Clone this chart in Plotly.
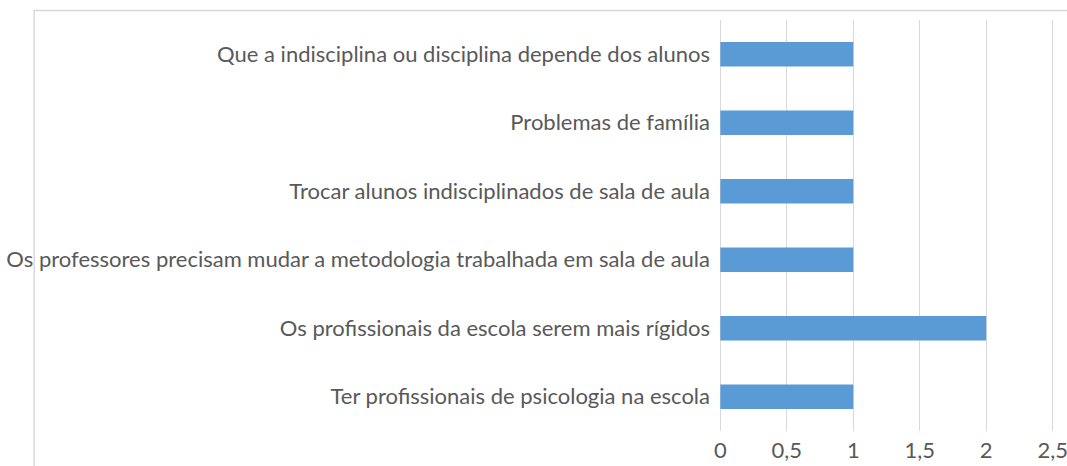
import plotly.graph_objects as go

categories = [
    "Ter profissionais de psicologia na escola",
    "Os profissionais da escola serem mais rígidos",
    "Os professores precisam mudar a metodologia trabalhada em sala de aula",
    "Trocar alunos indisciplinados de sala de aula",
    "Problemas de família",
    "Que a indisciplina ou disciplina depende dos alunos",
]
values = [1, 2, 1, 1, 1, 1]
tick_vals = [0, 0.5, 1, 1.5, 2, 2.5]
tick_text = ["0", "0,5", "1", "1,5", "2", "2,5"]

W, H = 1067, 466
px_per_unit = 333 / 2.5
pad = 0.01  # small range padding so edge gridlines are drawn
ml = 720 - pad * px_per_unit
mr = W - 1053 - pad * px_per_unit
mt, mb = 20, 35
pw, ph = W - ml - mr, H - mt - mb

fig = go.Figure(go.Bar(
    x=values, y=categories, orientation="h",
    marker=dict(color="#5B9BD5", line=dict(width=0)),
))

fig.update_layout(
    width=W, height=H,
    margin=dict(l=ml, r=mr, t=mt, b=mb, autoexpand=False),
    paper_bgcolor="white", plot_bgcolor="white",
    font=dict(family="Lato", size=22, color="#595959"),
    bargap=0.64,
    showlegend=False,
    xaxis=dict(range=[-pad, 2.5 + pad], tickvals=tick_vals, ticktext=tick_text,
               showgrid=True, gridcolor="#D9D9D9", gridwidth=1.3,
               zeroline=False, showline=False, ticks="", ticklabelstandoff=4,
               automargin=False, ticklabeloverflow="allow"),
    yaxis=dict(showgrid=False, zeroline=False, showline=False, ticks="",
               ticklabelstandoff=8, automargin=False),
    shapes=[dict(type="rect", xref="paper", yref="paper",
                 x0=(32.5 - ml) / pw, x1=1.2,
                 y0=-0.3, y1=(H - mb - 10.5) / ph,
                 line=dict(color="#D9D9D9", width=1.5), layer="below")],
)

fig.write_html(
    "out.html",
    config={"displayModeBar": False},
    post_script="document.body.style.margin='0';document.body.style.overflow='hidden';",
)
